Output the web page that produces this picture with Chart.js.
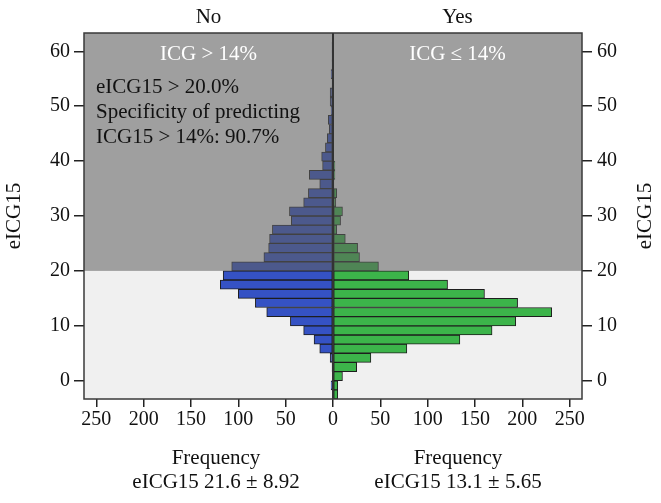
<!DOCTYPE html>
<html>
<head>
<meta charset="utf-8">
<script src="https://cdn.jsdelivr.net/npm/chart.js@4"></script>
<style>
  body { margin: 0; background: #fff; }
</style>
</head>
<body>
<canvas id="myChart" width="661" height="503"></canvas>
<script>
// eICG15 bins (centre of each bar)
var binCenters = [-2.5, -0.83, 0.83, 2.5, 4.17, 5.83, 7.5, 9.17, 10.83, 12.5,
  14.17, 15.83, 17.5, 19.17, 20.83, 22.5, 24.17, 25.83, 27.5, 29.17,
  30.83, 32.5, 34.17, 35.83, 37.5, 39.17, 40.83, 42.5, 44.17, 45.83,
  47.5, 49.17, 50.83, 52.5, 54.17, 55.83, 57.5, 59.17, 60.83, 62.5];
// frequency, ICG15 > 14% = No
var noCounts = [0, 2, 0, 1, 3, 14, 20, 31, 45, 70,
  82, 100, 119, 116, 107, 73, 68, 67, 64, 44,
  46, 31, 26, 14, 25, 11, 12, 8, 6, 4,
  5, 2, 3, 3, 1, 2, 1, 1, 1, 0];
// frequency, Yes
var yesCounts = [5, 5, 10, 25, 40, 78, 134, 168, 193, 231,
  195, 160, 121, 80, 48, 28, 26, 13, 4, 8,
  10, 3, 4, 1, 2, 2, 0, 0, 0, 0,
  0, 0, 0, 0, 0, 0, 0, 0, 0, 0];
var xTicks = [-250, -200, -150, -100, -50, 0, 50, 100, 150, 200, 250];
var yTicks = [0, 10, 20, 30, 40, 50, 60];
var cutoff = 20;

var serif = '"Liberation Serif", "DejaVu Serif", serif';
Chart.defaults.font.family = serif;
Chart.defaults.color = '#111';

function pts(vals, sign) {
  return vals.map(function (v, i) { return { x: sign * v, y: binCenters[i] }; });
}

var panels = {
  id: 'panels',
  beforeDatasetsDraw: function (chart) {
    var a = chart.chartArea, c = chart.ctx;
    c.save();
    c.fillStyle = '#f0f0f0';
    c.fillRect(a.left, a.top, a.right - a.left, a.bottom - a.top);
    c.restore();
  },
  afterDatasetsDraw: function (chart) {
    var a = chart.chartArea, c = chart.ctx;
    var xs = chart.scales.x, ys = chart.scales.y;
    var yc = ys.getPixelForValue(cutoff);
    var x0 = xs.getPixelForValue(0);
    c.save();
    // grey overlay above cut-off
    c.fillStyle = 'rgba(96,96,96,0.555)';
    c.fillRect(a.left, a.top, a.right - a.left, yc - a.top);
    // centre line
    c.strokeStyle = '#333';
    c.lineWidth = 2;
    c.beginPath();
    c.moveTo(x0, a.top);
    c.lineTo(x0, a.bottom);
    c.stroke();
    // frame
    c.strokeStyle = '#3a3a3a';
    c.lineWidth = 1.5;
    c.strokeRect(a.left, a.top, a.right - a.left, a.bottom - a.top);

    var midL = (a.left + x0) / 2, midR = (x0 + a.right) / 2;
    c.textBaseline = 'middle';
    c.textAlign = 'center';
    c.font = '21px ' + serif;
    c.fillStyle = '#111';
    c.fillText('No', midL, 17);
    c.fillText('Yes', midR, 17);
    c.fillStyle = '#fff';
    c.fillText('ICG > 14%', midL, 54);
    c.fillText('ICG \u2264 14%', midR, 54);

    c.fillStyle = '#111';
    c.textAlign = 'left';
    c.fillText('eICG15 > 20.0%', 96, 87);
    c.fillText('Specificity of predicting', 96, 112);
    c.fillText('ICG15 > 14%: 90.7%', 96, 137);

    c.textAlign = 'center';
    c.fillText('Frequency', 216, 458);
    c.fillText('eICG15 21.6 \u00b1 8.92', 216, 482);
    c.fillText('Frequency', 458, 458);
    c.fillText('eICG15 13.1 \u00b1 5.65', 458, 482);

    var ym = (a.top + a.bottom) / 2;
    c.translate(14, ym);
    c.rotate(-Math.PI / 2);
    c.fillText('eICG15', 0, 0);
    c.setTransform(1, 0, 0, 1, 0, 0);
    c.translate(645, ym);
    c.rotate(-Math.PI / 2);
    c.fillText('eICG15', 0, 0);
    c.restore();
  }
};

var ctx = document.getElementById('myChart').getContext('2d');
var myChart = new Chart(ctx, {
  type: 'bar',
  data: {
    datasets: [{
      label: 'No',
      data: pts(noCounts, -1),
      backgroundColor: '#3552c4',
      borderColor: '#1e1e1e',
      borderWidth: 1,
      borderSkipped: false,
      grouped: false,
      barPercentage: 1,
      categoryPercentage: 1
    }, {
      label: 'Yes',
      data: pts(yesCounts, 1),
      backgroundColor: '#3cb44a',
      borderColor: '#1e1e1e',
      borderWidth: 1,
      borderSkipped: false,
      grouped: false,
      barPercentage: 1,
      categoryPercentage: 1
    }]
  },
  plugins: [panels],
  options: {
    indexAxis: 'y',
    responsive: false,
    animation: false,
    layout: { padding: { top: 33, left: 0, right: 0, bottom: 0 } },
    plugins: { legend: { display: false }, tooltip: { enabled: false } },
    scales: {
      x: {
        type: 'linear',
        min: -263,
        max: 263,
        afterBuildTicks: function (s) { s.ticks = xTicks.map(function (v) { return { value: v }; }); },
        afterFit: function (s) { s.height = 104; },
        ticks: {
          font: { size: 20 },
          padding: 1,
          maxRotation: 0,
          autoSkip: false,
          callback: function (v) { return Math.abs(v); }
        },
        grid: { drawOnChartArea: false, tickLength: 8, color: '#222', lineWidth: 1.5 },
        border: { display: false }
      },
      y: {
        type: 'linear',
        position: 'left',
        offset: false,
        min: -3.33,
        max: 63.33,
        afterBuildTicks: function (s) { s.ticks = yTicks.map(function (v) { return { value: v }; }); },
        afterFit: function (s) { s.width = 84; },
        ticks: { font: { size: 20 }, padding: 4, autoSkip: false },
        grid: { offset: false, drawOnChartArea: false, tickLength: 10, color: '#222', lineWidth: 1.5 },
        border: { display: false }
      },
      y2: {
        type: 'linear',
        position: 'right',
        offset: false,
        min: -3.33,
        max: 63.33,
        afterBuildTicks: function (s) { s.ticks = yTicks.map(function (v) { return { value: v }; }); },
        afterFit: function (s) { s.width = 79; },
        ticks: { font: { size: 20 }, padding: 5, autoSkip: false },
        grid: { offset: false, drawOnChartArea: false, tickLength: 10, color: '#222', lineWidth: 1.5 },
        border: { display: false }
      }
    }
  }
});
</script>
</body>
</html>
